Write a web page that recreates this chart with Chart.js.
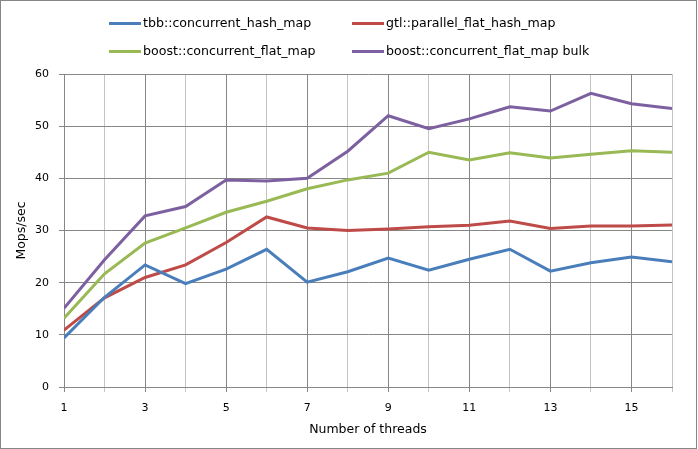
<!DOCTYPE html>
<html>
<head>
<meta charset="utf-8">
<script src="https://cdn.jsdelivr.net/npm/chart.js@4/dist/chart.umd.min.js"></script>
<style>
html,body{margin:0;padding:0;background:#fff;}
#wrap{width:698px;height:449px;}
</style>
</head>
<body>
<div id="wrap"><canvas id="c" width="698" height="449"></canvas></div>
<script>
const threads = [1,2,3,4,5,6,7,8,9,10,11,12,13,14,15,16];
const tbb   = [9.4,17.2,23.4,19.8,22.6,26.4,20.1,22.1,24.7,22.4,24.5,26.4,22.2,23.8,24.9,24.0];
const gtl   = [10.9,17.1,21.0,23.4,27.7,32.6,30.5,30.0,30.3,30.7,31.0,31.8,30.4,30.85,30.85,31.05];
const boostMap  = [13.2,21.7,27.6,30.5,33.5,35.6,38.0,39.7,41.0,45.0,43.5,44.9,43.9,44.6,45.3,45.0];
const boostBulk = [15.1,24.4,32.8,34.6,39.7,39.5,40.0,45.2,52.0,49.5,51.4,53.7,52.9,56.3,54.3,53.4];
const seriesNames = ["tbb::concurrent_hash_map","gtl::parallel_flat_hash_map","boost::concurrent_flat_map","boost::concurrent_flat_map bulk"];
const seriesColors = ["#4a7ebb","#be4b48","#98b954","#7d60a0"];
const yTicks = [0,10,20,30,40,50,60];

const seriesData = [tbb, gtl, boostMap, boostBulk];
const datasets = seriesData.map((vals, i) => ({
  label: seriesNames[i],
  data: vals.map((v, k) => ({x: threads[k], y: v})),
  borderColor: seriesColors[i],
  backgroundColor: seriesColors[i],
  borderWidth: 3,
  pointRadius: 0,
  tension: 0,
  fill: false
}));

const FONT = "'DejaVu Sans', Verdana, sans-serif";

const frame = {
  id: 'frame',
  beforeDraw(chart) {
    const ctx = chart.ctx;
    ctx.save();
    ctx.fillStyle = '#fff';
    ctx.fillRect(0, 0, chart.width, chart.height);
    ctx.strokeStyle = '#868686';
    ctx.lineWidth = 1;
    ctx.strokeRect(0.5, 0.5, 696, 448);
    ctx.restore();
  },
  afterDraw(chart) {
    const ctx = chart.ctx;
    ctx.save();
    const cols = [109, 352];
    const rows = [23.5, 51.5];
    ctx.font = "12.6px " + FONT;
    ctx.textBaseline = 'middle';
    ctx.textAlign = 'left';
    chart.data.datasets.forEach((ds, i) => {
      const x = cols[i % 2], y = rows[Math.floor(i / 2)];
      ctx.strokeStyle = ds.borderColor;
      ctx.lineWidth = 3;
      ctx.beginPath();
      ctx.moveTo(x, y);
      ctx.lineTo(x + 32, y);
      ctx.stroke();
      ctx.fillStyle = '#000';
      ctx.fillText(ds.label, x + 34, y);
    });
    ctx.restore();
  }
};

new Chart(document.getElementById('c'), {
  type: 'line',
  data: { datasets },
  options: {
    responsive: false,
    animation: false,
    devicePixelRatio: 1,
    layout: { padding: { top: 74, right: 26, left: 0, bottom: 0 } },
    plugins: { legend: { display: false }, tooltip: { enabled: false } },
    scales: {
      x: {
        type: 'linear',
        min: 1, max: 16,
        afterFit(s) { s.height = 62; },
        ticks: {
          stepSize: 1, autoSkip: false, maxRotation: 0,
          color: '#000', font: { family: FONT, size: 11 }, padding: 10,
          callback: v => (v % 2 === 1 ? String(v) : '')
        },
        grid: {
          color: c => (c.tick && c.tick.value % 2 === 1 ? '#878787' : '#c4c4c4'),
          tickColor: c => (c.tick && c.tick.value % 2 === 1 ? '#878787' : '#c4c4c4'),
          tickLength: 5, lineWidth: 1
        },
        border: { color: '#878787' },
        title: { display: true, text: 'Number of threads', color: '#000',
          font: { family: FONT, size: 12.5 }, padding: { top: 0, bottom: 12 } }
      },
      y: {
        min: 0, max: 60,
        afterFit(s) { s.width = 64; },
        afterBuildTicks(s) { s.ticks = yTicks.map(v => ({ value: v })); },
        ticks: { color: '#000', font: { family: FONT, size: 11 }, padding: 10 },
        grid: { color: '#878787', tickColor: '#878787', tickLength: 5, lineWidth: 1 },
        border: { color: '#878787' },
        title: { display: true, text: 'Mops/sec', color: '#000',
          font: { family: FONT, size: 12.5 }, padding: { top: 14, bottom: 0 } }
      }
    }
  },
  plugins: [frame]
});
</script>
</body>
</html>
